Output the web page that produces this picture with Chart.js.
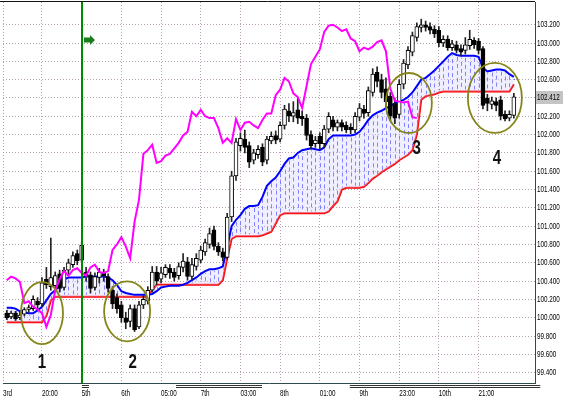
<!DOCTYPE html>
<html><head><meta charset="utf-8">
<script src="https://cdn.jsdelivr.net/npm/chart.js@4.4.1/dist/chart.umd.min.js"></script>
<style>html,body{margin:0;padding:0;background:#fff}canvas{display:block}</style>
</head><body>
<canvas id="c" width="563" height="399"></canvas>
<script>
const opens  = [100.05,100.01,100.05,100.00,100.04,100.09,100.10,100.18,100.15,100.42,
100.34,100.35,100.48,100.33,100.52,100.58,100.70,100.63,100.50,100.47,
100.33,100.44,100.49,100.45,100.30,100.22,100.14,100.00,99.96,100.10,
99.90,100.14,100.18,100.30,100.50,100.42,100.47,100.54,100.50,100.46,
100.55,100.61,100.45,100.56,100.63,100.72,100.80,100.96,100.78,100.72,
100.66,101.10,101.55,101.88,101.95,101.88,101.72,101.78,101.86,101.72,
101.93,101.99,101.95,102.10,102.26,102.20,102.27,102.20,102.18,102.00,
101.90,101.98,101.90,102.06,102.16,102.08,102.13,102.10,102.08,102.05,
102.19,102.28,102.24,102.46,102.68,102.60,102.50,102.42,102.34,102.22,
102.55,102.76,102.90,103.06,103.17,103.20,103.18,103.15,103.14,103.00,
103.04,102.95,102.98,102.94,102.92,102.97,103.03,103.02,102.94,102.40,
102.33,102.36,102.38,102.22,102.18,102.21];
const highs  = [100.08,100.07,100.07,100.06,100.11,100.14,100.24,100.22,100.44,100.55,
100.87,100.50,100.52,100.55,100.64,100.72,100.74,100.82,100.55,100.50,
100.49,100.54,100.53,100.48,100.34,100.26,100.18,100.06,100.14,100.14,
100.18,100.24,100.34,100.56,100.56,100.55,100.58,100.58,100.54,100.60,
100.70,100.66,100.65,100.70,100.78,100.86,100.98,101.00,100.82,100.76,
101.14,101.60,101.96,102.02,102.05,101.92,101.84,101.88,101.90,101.98,
102.03,102.04,102.14,102.32,102.34,102.36,102.40,102.26,102.22,102.04,
101.98,102.02,102.10,102.24,102.20,102.16,102.16,102.14,102.12,102.24,
102.34,102.32,102.52,102.72,102.74,102.66,102.62,102.46,102.40,102.60,
102.82,102.96,103.12,103.22,103.26,103.24,103.22,103.19,103.18,103.08,
103.08,103.03,103.02,102.98,103.06,103.14,103.06,103.05,102.96,102.44,
102.41,102.40,102.42,102.26,102.26,102.45];
const lows   = [99.98,99.99,99.97,99.98,100.02,100.06,100.08,100.10,100.12,100.32,
100.30,100.30,100.28,100.30,100.48,100.55,100.58,100.60,100.40,100.27,
100.30,100.38,100.40,100.28,100.10,100.05,99.95,99.88,99.90,99.85,
99.88,100.10,100.15,100.28,100.36,100.38,100.44,100.43,100.40,100.42,
100.50,100.41,100.42,100.52,100.60,100.68,100.76,100.74,100.68,100.62,
100.64,101.05,101.50,101.82,101.80,101.64,101.68,101.74,101.66,101.68,
101.90,101.90,101.92,102.06,102.14,102.14,102.12,102.10,101.94,101.84,
101.86,101.84,101.86,102.02,102.04,102.04,102.04,102.02,102.01,102.02,
102.15,102.18,102.20,102.42,102.52,102.40,102.30,102.15,102.12,102.18,
102.50,102.72,102.86,103.02,103.12,103.13,103.10,103.06,102.96,102.96,
102.92,102.92,102.89,102.86,102.88,102.93,102.94,102.88,102.28,102.26,
102.28,102.26,102.16,102.15,102.15,102.18];
const closes = [100.00,100.05,99.99,100.03,100.09,100.11,100.20,100.14,100.38,100.36,
100.44,100.46,100.32,100.52,100.60,100.68,100.62,100.79,100.46,100.32,
100.45,100.50,100.46,100.32,100.15,100.10,100.00,99.95,100.10,99.87,
100.14,100.20,100.30,100.50,100.40,100.49,100.55,100.49,100.44,100.56,
100.62,100.45,100.58,100.65,100.74,100.82,100.92,100.78,100.72,100.66,
101.10,101.55,101.92,101.96,101.86,101.70,101.80,101.84,101.70,101.95,
101.98,101.94,102.10,102.28,102.20,102.24,102.18,102.17,101.99,101.88,
101.94,101.90,102.06,102.20,102.08,102.13,102.08,102.05,102.05,102.20,
102.29,102.23,102.48,102.66,102.58,102.46,102.36,102.20,102.18,102.55,
102.78,102.92,103.08,103.18,103.20,103.17,103.14,103.10,103.00,103.04,
102.95,102.99,102.92,102.90,102.98,103.04,102.98,102.92,102.32,102.34,
102.37,102.32,102.20,102.17,102.22,102.412];
const blueLine = [100.11,100.11,100.10,100.07,100.06,100.05,100.05,100.08,100.12,100.19,
100.26,100.30,100.35,100.42,100.44,100.44,100.44,100.44,100.45,100.45,
100.45,100.45,100.45,100.44,100.41,100.36,100.29,100.27,100.26,100.25,
100.25,100.25,100.25,100.26,100.29,100.33,100.34,100.35,100.35,100.35,
100.36,100.38,100.41,100.44,100.48,100.51,100.53,100.53,100.54,100.56,
100.77,101.00,101.07,101.12,101.19,101.22,101.22,101.23,101.32,101.44,
101.49,101.53,101.60,101.68,101.74,101.75,101.80,101.83,101.84,101.85,
101.84,101.83,101.86,101.95,101.99,101.99,101.99,101.99,101.99,102.00,
102.03,102.09,102.16,102.21,102.24,102.26,102.29,102.31,102.34,102.36,
102.38,102.41,102.46,102.53,102.60,102.62,102.66,102.70,102.75,102.80,
102.85,102.89,102.87,102.86,102.86,102.86,102.86,102.85,102.73,102.69,
102.70,102.71,102.71,102.70,102.66,102.63];
const redLine = [99.95,99.95,99.95,99.95,99.95,99.95,99.95,99.95,99.95,100.02,
100.19,100.23,100.23,100.23,100.23,100.23,100.23,100.23,100.23,100.23,
100.23,100.23,100.23,100.23,100.23,100.23,100.23,100.23,100.23,100.23,
100.23,100.23,100.23,100.30,100.36,100.36,100.36,100.36,100.36,100.36,
100.36,100.36,100.36,100.36,100.36,100.36,100.36,100.36,100.36,100.41,
100.65,100.86,100.89,100.89,100.89,100.89,100.89,100.89,100.90,100.92,
100.94,101.03,101.12,101.14,101.14,101.14,101.14,101.14,101.14,101.14,
101.14,101.14,101.14,101.16,101.22,101.27,101.40,101.42,101.42,101.42,
101.42,101.43,101.47,101.52,101.55,101.59,101.62,101.65,101.68,101.72,
101.75,101.78,101.83,102.00,102.38,102.42,102.43,102.44,102.46,102.47,
102.47,102.47,102.47,102.47,102.47,102.47,102.47,102.47,102.47,102.47,
102.47,102.47,102.47,102.47,102.47,102.55];
const magentaLine = [100.41,100.45,100.43,100.39,100.16,100.18,100.12,100.09,100.05,99.90,
100.03,100.30,100.42,100.51,100.46,100.52,100.54,100.49,100.46,100.55,
100.58,100.50,100.49,100.51,100.74,100.80,100.88,100.78,100.65,101.05,
101.29,101.79,101.83,101.89,101.69,101.71,101.77,101.79,101.85,101.91,
101.99,102.03,102.25,102.20,102.27,102.20,102.18,102.18,102.07,101.91,
101.96,101.91,102.17,102.05,102.13,102.14,102.10,102.07,102.16,102.23,
102.23,102.43,102.49,102.62,102.58,102.45,102.41,102.29,102.53,102.77,
102.85,102.93,103.12,103.19,103.20,103.17,103.13,103.15,103.05,103.02,
102.91,102.95,102.93,102.96,103.01,103.03,102.91,102.50,102.37,102.36,
102.35,102.36,102.19,102.18];
const xTickIndex  = [-0.84, 8, 17, 26, 35, 44, 53, 62, 71, 80, 89, 98, 107];
const xTickLabels = ['3rd','20:00','5th','6th','05:00','7th','03:00','8th','01:00','9th','23:00','10th','21:00'];
const yTickValues = [99.4,99.6,99.8,100.0,100.2,100.4,100.6,100.8,101.0,101.2,101.4,101.6,101.8,102.0,102.2,102.4,102.6,102.8,103.0,103.2];
const currentPrice = 102.412;
const markerIndex = 17;
const markerArrowPrice = 103.03;
const circleMarks = [
  {i: 8.0,   p: 100.05, rx: 21, ry: 31, text: '1', ti: 8.0,  tp: 99.52},
  {i: 27.3,  p: 100.07, rx: 23, ry: 30, text: '2', ti: 28.6, tp: 99.52},
  {i: 91.2,  p: 102.345, rx: 23, ry: 30, text: '3', ti: 93.0, tp: 101.85},
  {i: 110.7, p: 102.40, rx: 27, ry: 35, text: '4', ti: 111.2, tp: 101.74}
];
const separatorRanges = [[17.07, 18.66], [38.4, 57.9], [77.8, 121]];

const FONT = "'Liberation Sans','Arimo',Arial,sans-serif";
const SQUEEZE = 0.7;

function squeezeLabels(scale, k) {
  if (scale._squeezed) return;
  scale._squeezed = true;
  const orig = scale.drawLabels;
  scale.drawLabels = function (area) {
    const ctx = this.ctx;
    const proto = Object.getPrototypeOf(ctx).fillText;
    ctx.fillText = function (t, x, y, mw) {
      this.save(); this.scale(k, 1);
      if (mw === undefined) proto.call(this, t, x / k, y); else proto.call(this, t, x / k, y, mw / k);
      this.restore();
    };
    try { orig.call(this, area); } finally { delete ctx.fillText; }
  };
}

const hatchPlugin = {
  id: 'hatch',
  beforeDatasetsDraw(chart) {
    const {ctx, chartArea: a, scales: {x, y}} = chart;
    ctx.save();
    ctx.beginPath(); ctx.rect(a.left, a.top, a.width, a.height); ctx.clip();
    ctx.strokeStyle = 'rgba(60,60,255,0.85)';
    ctx.lineWidth = 1;
    ctx.setLineDash([4, 3]);
    for (let i = 0; i < blueLine.length; i++) {
      const px = Math.round(x.getPixelForValue(i)) + 0.5;
      const y1 = y.getPixelForValue(blueLine[i]), y2 = y.getPixelForValue(redLine[i]);
      if (Math.abs(y1 - y2) < 4) continue;
      ctx.lineDashOffset = (i % 2) * 3;
      ctx.beginPath();
      ctx.moveTo(px, Math.min(y1, y2) + 2);
      ctx.lineTo(px, Math.max(y1, y2) - 2);
      ctx.stroke();
    }
    ctx.restore();
  }
};

const overlayPlugin = {
  id: 'overlay',
  beforeDraw(chart) {
    squeezeLabels(chart.scales.x, SQUEEZE);
    squeezeLabels(chart.scales.y, SQUEEZE);
  },
  afterDatasetsDraw(chart) {
    const {ctx, chartArea: a, scales: {x, y}} = chart;
    ctx.save();
    const gx = Math.round(x.getPixelForValue(markerIndex));
    ctx.strokeStyle = '#008a00';
    ctx.lineWidth = 2;
    ctx.beginPath(); ctx.moveTo(gx, a.top); ctx.lineTo(gx, a.bottom); ctx.stroke();
    const ax = gx + 2, ay = Math.round(y.getPixelForValue(markerArrowPrice));
    ctx.fillStyle = '#1c7c1c';
    ctx.beginPath();
    ctx.moveTo(ax, ay - 2.5); ctx.lineTo(ax + 6, ay - 2.5); ctx.lineTo(ax + 6, ay - 5);
    ctx.lineTo(ax + 11, ay); ctx.lineTo(ax + 6, ay + 5); ctx.lineTo(ax + 6, ay + 2.5);
    ctx.lineTo(ax, ay + 2.5); ctx.closePath(); ctx.fill();
    ctx.strokeStyle = '#85851a';
    ctx.lineWidth = 1.8;
    for (const c of circleMarks) {
      ctx.beginPath();
      ctx.ellipse(x.getPixelForValue(c.i), y.getPixelForValue(c.p), c.rx, c.ry, 0, 0, Math.PI * 2);
      ctx.stroke();
    }
    ctx.fillStyle = '#111';
    ctx.font = "bold 21px " + FONT;
    ctx.textAlign = 'center';
    ctx.textBaseline = 'middle';
    for (const c of circleMarks) {
      ctx.save();
      ctx.translate(x.getPixelForValue(c.ti), y.getPixelForValue(c.tp));
      ctx.scale(0.72, 1);
      ctx.fillText(c.text, 0, 0);
      ctx.restore();
    }
    ctx.restore();
  },
  afterDraw(chart) {
    const {ctx, chartArea: a, scales: {x, y}} = chart;
    ctx.save();
    ctx.strokeStyle = '#111';
    ctx.lineWidth = 1;
    ctx.beginPath(); ctx.moveTo(0, a.top - 0.5); ctx.lineTo(a.right, a.top - 0.5); ctx.stroke();
    ctx.strokeStyle = '#333';
    for (const [s, e] of separatorRanges) {
      const x1 = x.getPixelForValue(s), x2 = Math.min(chart.width, x.getPixelForValue(e));
      for (const dy of [2.5, 4.5]) {
        ctx.beginPath(); ctx.moveTo(x1, a.bottom + dy); ctx.lineTo(x2, a.bottom + dy); ctx.stroke();
      }
    }
    const py = Math.round(y.getPixelForValue(currentPrice));
    ctx.fillStyle = '#c4c4c4';
    ctx.fillRect(a.right + 1, py - 6, chart.width - a.right - 1, 13);
    ctx.fillStyle = '#000';
    ctx.font = "9px " + FONT;
    ctx.textAlign = 'left';
    ctx.textBaseline = 'middle';
    ctx.translate(a.right + 2, py + 0.5);
    ctx.scale(SQUEEZE, 1);
    ctx.fillText(currentPrice.toFixed(3), 0, 0);
    ctx.restore();
  }
};

const gridColor = 'rgba(170,145,170,0.85)';
const zeroPad = s => { s.paddingLeft = 0; s.paddingRight = 0; s.paddingTop = 0; s.paddingBottom = 0; };

new Chart(document.getElementById('c'), {
  type: 'bar',
  data: {
    datasets: [
      {type: 'line', label: 'lagging', data: magentaLine.map((v, i) => ({x: i, y: v})),
       borderColor: '#ff00ff', borderWidth: 2, pointRadius: 0, tension: 0, fill: false, order: 0},
      {type: 'bar', label: 'body', data: opens.map((o, i) => ({x: i, y: [o, closes[i]]})),
       backgroundColor: closes.map((c, i) => c >= opens[i] ? '#ffffff' : '#000000'),
       borderColor: '#000', borderWidth: 1, borderSkipped: false, barThickness: 4, grouped: false, order: 1},
      {type: 'bar', label: 'wick', data: lows.map((l, i) => ({x: i, y: [l, highs[i]]})),
       backgroundColor: '#222', borderWidth: 0, barThickness: 1, grouped: false, order: 2},
      {type: 'line', label: 'blue', data: blueLine.map((v, i) => ({x: i, y: v})),
       borderColor: '#0000ff', borderWidth: 2, pointRadius: 0, tension: 0, order: 3,
       fill: {target: 4, above: 'rgba(210,210,255,0.35)', below: 'rgba(210,210,255,0.35)'}},
      {type: 'line', label: 'red', data: redLine.map((v, i) => ({x: i, y: v})),
       borderColor: '#ff0000', borderWidth: 2, pointRadius: 0, tension: 0, fill: false, order: 4}
    ]
  },
  options: {
    responsive: false,
    animation: false,
    devicePixelRatio: 1,
    layout: {padding: {left: 3, top: 2, right: 0, bottom: 0}},
    plugins: {legend: {display: false}, tooltip: {enabled: false}},
    scales: {
      x: {
        type: 'linear', min: -0.84, max: 119.8, offset: false,
        afterBuildTicks: s => { s.ticks = xTickIndex.map(v => ({value: v})); },
        afterFit: s => { s.height = 16; zeroPad(s); },
        grid: {color: gridColor, drawTicks: false, lineWidth: 1, offset: false},
        border: {display: true, color: '#2f4a4a', width: 1, dash: [1, 2]},
        ticks: {autoSkip: false, maxRotation: 0, minRotation: 0, align: 'start', padding: 5, color: '#000',
                font: {family: FONT, size: 9},
                callback: (v, idx) => xTickLabels[idx]}
      },
      y: {
        type: 'linear', position: 'right', min: 99.2875, max: 103.448,
        afterBuildTicks: s => { s.ticks = yTickValues.map(v => ({value: v})); },
        afterFit: s => { s.width = 28; zeroPad(s); },
        grid: {color: gridColor, drawTicks: false, lineWidth: 1},
        border: {display: true, color: '#2f4a4a', width: 1, dash: [1, 2]},
        ticks: {padding: 2, color: '#000', font: {family: FONT, size: 9},
                callback: v => Math.abs(v - 102.4) < 1e-6 ? '' : v.toFixed(3)}
      }
    }
  },
  plugins: [hatchPlugin, overlayPlugin]
});
</script>
</body></html>
